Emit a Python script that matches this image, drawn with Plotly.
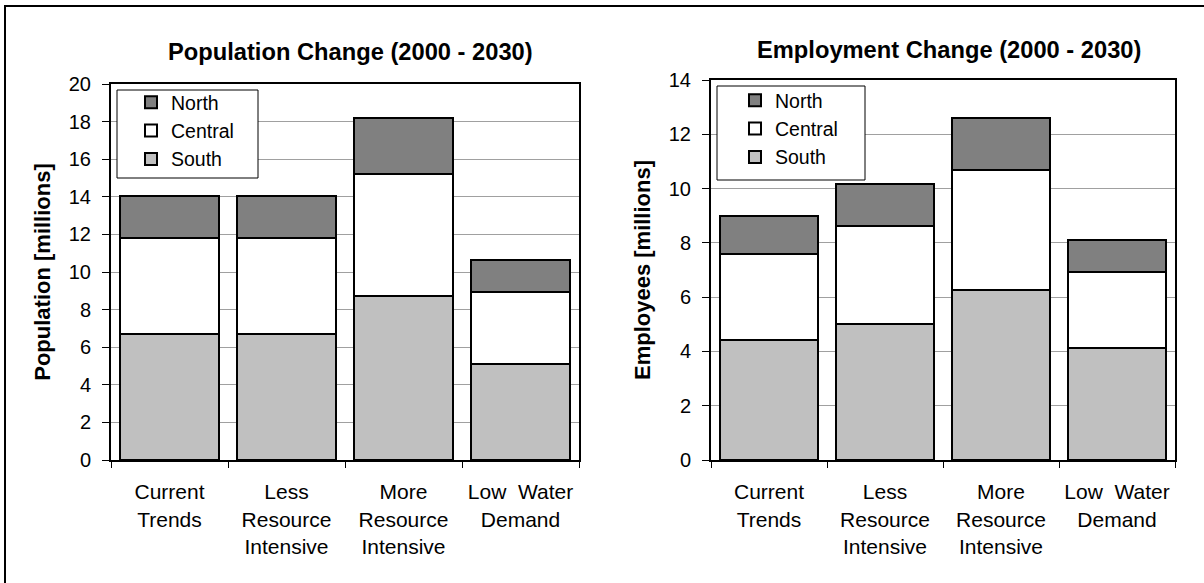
import plotly.graph_objects as go

categories = ["Current<br>Trends", "Less<br>Resource<br>Intensive",
              "More<br>Resource<br>Intensive", "Low  Water<br>Demand"]

pop_south = [6.7, 6.7, 8.75, 5.1]
pop_central = [5.1, 5.1, 6.45, 3.82]
pop_north = [2.25, 2.25, 3.0, 1.72]

emp_south = [4.42, 5.0, 6.26, 4.12]
emp_central = [3.16, 3.62, 4.43, 2.8]
emp_north = [1.41, 1.56, 1.91, 1.18]

pop_ticks = [0, 2, 4, 6, 8, 10, 12, 14, 16, 18, 20]
emp_ticks = [0, 2, 4, 6, 8, 10, 12, 14]

colors = {"South": "#C0C0C0", "Central": "#FFFFFF", "North": "#808080"}
FONT = "Liberation Sans, Arial, sans-serif"
W, H = 1204, 583

fig = go.Figure()

def add_series(name, vals, xa, ya, legend):
    fig.add_trace(go.Bar(
        x=categories, y=vals, name=name, xaxis=xa, yaxis=ya, legend=legend,
        marker=dict(color=colors[name], line=dict(color="black", width=2)),
    ))

for name, vals in [("South", pop_south), ("Central", pop_central), ("North", pop_north)]:
    add_series(name, vals, "x", "y", "legend")
for name, vals in [("South", emp_south), ("Central", emp_central), ("North", emp_north)]:
    add_series(name, vals, "x2", "y2", "legend2")

def px_x(p):
    return p / W

def px_y(p):
    return (H - p) / H

line_common = dict(showline=True, linecolor="black", linewidth=2, mirror=True,
                   ticks="outside", tickcolor="black", tickwidth=1, automargin=False)
ytick_font = dict(family=FONT, size=20, color="black")
xtick_font = dict(family=FONT, size=21, color="black")
title_font = dict(family=FONT, size=22, color="black")
legend_font = dict(family=FONT, size=19.5, color="black")

legend_box = dict(type="rect", xref="paper", yref="paper", layer="above",
                  line=dict(color="black", width=1), fillcolor="white")

fig.update_layout(
    template="none",
    width=W, height=H, barmode="stack", bargap=0.16,
    margin=dict(l=0, r=0, t=0, b=0, autoexpand=False),
    paper_bgcolor="white", plot_bgcolor="white",
    font=dict(family=FONT, color="black"),
    showlegend=True,
    xaxis=dict(domain=[px_x(111), px_x(579)], anchor="y", type="category",
               tickson="boundaries", ticklen=6, ticklabelstandoff=12,
               tickfont=xtick_font, showgrid=False, **line_common),
    yaxis=dict(domain=[px_y(460), px_y(84)], anchor="x", range=[0, 20],
               tickvals=pop_ticks, ticklen=7, ticklabelstandoff=7,
               showgrid=True, gridcolor="#A0A0A0",
               gridwidth=1, zeroline=False, tickfont=ytick_font,
               title=dict(text="<b>Population [millions]</b>", standoff=12,
                          font=title_font),
               **line_common),
    xaxis2=dict(domain=[px_x(711), px_x(1175)], anchor="y2", type="category",
                tickson="boundaries", ticklen=6, ticklabelstandoff=12,
                tickfont=xtick_font, showgrid=False, **line_common),
    yaxis2=dict(domain=[px_y(460), px_y(80)], anchor="x2", range=[0, 14],
                tickvals=emp_ticks, ticklen=7, ticklabelstandoff=7,
                showgrid=True, gridcolor="#A0A0A0",
                gridwidth=1, zeroline=False, tickfont=ytick_font,
                title=dict(text="<b>Employees [millions]</b>", standoff=12,
                           font=title_font),
                **line_common),
    legend=dict(x=px_x(117), y=px_y(83), xanchor="left", yanchor="top",
                traceorder="reversed", bgcolor="rgba(0,0,0,0)", borderwidth=0,
                font=legend_font, indentation=14, itemclick=False),
    legend2=dict(x=px_x(717), y=px_y(81), xanchor="left", yanchor="top",
                 traceorder="reversed", bgcolor="rgba(0,0,0,0)", borderwidth=0,
                 font=legend_font, indentation=18, itemclick=False),
    annotations=[
        dict(text="<b>Population Change (2000 - 2030)</b>", x=px_x(350), y=px_y(52),
             xref="paper", yref="paper", showarrow=False, xanchor="center", yanchor="middle",
             font=dict(family=FONT, size=23.7, color="black")),
        dict(text="<b>Employment Change (2000 - 2030)</b>", x=px_x(949), y=px_y(50),
             xref="paper", yref="paper", showarrow=False, xanchor="center", yanchor="middle",
             font=dict(family=FONT, size=23.7, color="black")),
    ],
    shapes=[
        dict(type="rect", xref="paper", yref="paper", x0=px_x(5), y0=px_y(590),
             x1=px_x(1210), y1=px_y(6), line=dict(color="black", width=2),
             fillcolor="rgba(0,0,0,0)", layer="above"),
        dict(x0=px_x(117), x1=px_x(258), y0=px_y(178), y1=px_y(90), **legend_box),
        dict(x0=px_x(717), x1=px_x(865), y0=px_y(180), y1=px_y(86), **legend_box),
    ],
)

fig.write_html("out.html", config={"displayModeBar": False},
               post_script="document.body.style.margin='0';document.body.style.overflow='hidden';")
